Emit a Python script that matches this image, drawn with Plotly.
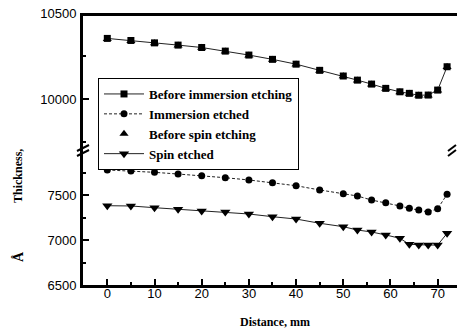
import plotly.graph_objects as go

distance = [0, 5, 10, 15, 20, 25, 30, 35, 40, 45, 50, 53, 56, 59, 62, 64, 66, 68, 70, 72]
before_immersion = [10353, 10341, 10327, 10314, 10300, 10279, 10256, 10231, 10203, 10167,
                    10134, 10110, 10087, 10062, 10042, 10033, 10022, 10023, 10052, 10188]
before_spin = [10350, 10338, 10325, 10312, 10298, 10277, 10254, 10229, 10201, 10165,
               10132, 10108, 10085, 10060, 10040, 10031, 10020, 10021, 10050, 10186]
immersion_etched = [7778, 7767, 7752, 7733, 7714, 7692, 7667, 7637, 7603, 7556,
                    7514, 7489, 7444, 7414, 7378, 7352, 7333, 7311, 7348, 7508]
spin_etched = [7381, 7378, 7359, 7341, 7322, 7311, 7289, 7259, 7233, 7186,
               7148, 7111, 7089, 7056, 7019, 6952, 6944, 6944, 6944, 7074]

x_ticks = [0, 10, 20, 30, 40, 50, 60, 70]
y_low_ticks = [6500, 7000, 7500]
y_high_ticks = [10000, 10500]

W, H = 457, 332
L, R, T, B = 83, 0, 13, 47
pw, ph = W - L - R, H - T - B
brk = 135 / ph

def px(xp):
    return (xp - L) / pw

def py(yp):
    return (H - B - yp) / ph

fig = go.Figure()
fig.add_trace(go.Scatter(x=distance, y=before_spin, yaxis="y2", mode="markers",
                         name="Before spin etching", legendrank=3, cliponaxis=False,
                         marker=dict(symbol="triangle-up", size=8, color="black")))
fig.add_trace(go.Scatter(x=distance, y=before_immersion, yaxis="y2", mode="lines+markers",
                         name="Before immersion etching", legendrank=1, cliponaxis=False,
                         line=dict(color="#222", width=1),
                         marker=dict(symbol="square", size=7, color="black")))
fig.add_trace(go.Scatter(x=distance, y=immersion_etched, yaxis="y", mode="lines+markers",
                         name="Immersion etched", legendrank=2, cliponaxis=False,
                         line=dict(color="#222", width=1, dash="3px,2px"),
                         marker=dict(symbol="circle", size=7, color="black")))
fig.add_trace(go.Scatter(x=distance, y=spin_etched, yaxis="y", mode="lines+markers",
                         name="Spin etched", legendrank=4, cliponaxis=False,
                         line=dict(color="#222", width=1),
                         marker=dict(symbol="triangle-down", size=9, color="black")))

tickfont = dict(family="Liberation Sans, Arial", size=13, color="black")
fig.update_layout(
    width=W, height=H,
    margin=dict(l=L, r=R, t=T, b=B, pad=0),
    paper_bgcolor="white", plot_bgcolor="white",
    showlegend=True,
    legend=dict(
        x=px(98), y=py(78), xanchor="left", yanchor="top",
        bordercolor="black", borderwidth=1, bgcolor="white",
        font=dict(family="Liberation Serif, Times New Roman", size=13, color="black", weight="bold"),
        itemwidth=40,
    ),
    xaxis=dict(
        range=[-5.15, 74.1], tickvals=x_ticks, ticks="inside", ticklen=6, tickwidth=2,
        tickcolor="black", showline=True, linewidth=3, linecolor="black",
        showgrid=False, zeroline=False, tickfont=tickfont, anchor="y", automargin=False,
        ticklabelstandoff=-6,
        minor=dict(dtick=5, tick0=0, ticks="inside", ticklen=3, tickwidth=2, tickcolor="black", showgrid=False),
    ),
    yaxis=dict(
        domain=[0, brk], range=[6500, 8000], tickvals=y_low_ticks, ticks="inside",
        ticklen=6, tickwidth=2, tickcolor="black", showline=True, linewidth=3,
        linecolor="black", showgrid=False, zeroline=False, tickfont=tickfont,
        tickformat="d", ticklabelstandoff=1, anchor="x", automargin=False,
        minor=dict(dtick=250, tick0=6500, ticks="inside", ticklen=3, tickwidth=2, tickcolor="black", showgrid=False),
    ),
    yaxis2=dict(
        domain=[brk, 1], range=[9703, 10501], tickvals=y_high_ticks, ticks="inside",
        ticklen=6, tickwidth=2, tickcolor="black", showline=True, linewidth=3,
        linecolor="black", showgrid=False, zeroline=False, tickfont=tickfont,
        tickformat="d", ticklabelstandoff=1, anchor="x", automargin=False,
        minor=dict(dtick=250, tick0=10000, ticks="inside", ticklen=3, tickwidth=2, tickcolor="black", showgrid=False),
    ),
)

titlefont = dict(family="Liberation Serif, Times New Roman", size=12, color="black", weight="bold")
fig.add_annotation(text="Thickness,", xref="paper", yref="paper", x=px(18), y=py(176),
                   xanchor="center", yanchor="middle",
                   textangle=-90, showarrow=False, font=titlefont)
fig.add_annotation(text="Å", xref="paper", yref="paper", x=px(18), y=py(257),
                   xanchor="center", yanchor="middle",
                   textangle=-90, showarrow=False, font=dict(family="Liberation Serif", size=14, color="black", weight="bold"))
fig.add_annotation(text="Distance, mm", xref="paper", yref="paper", x=px(275), y=py(322),
                   xanchor="center", yanchor="middle",
                   showarrow=False, font=titlefont)

# top frame line
fig.add_shape(type="line", xref="paper", yref="paper", x0=0, x1=1, y0=py(14.5), y1=py(14.5),
              line=dict(color="black", width=3), layer="above")
# break marks
for (a, b) in [(77, 89), (448, 456)]:
    for off in (0, 5):
        fig.add_shape(type="line", xref="paper", yref="paper",
                      x0=px(a), x1=px(b), y0=py(151 + off), y1=py(145 + off),
                      line=dict(color="black", width=2))

fig.write_html("out.html", config={"displayModeBar": False},
               post_script="document.body.style.margin='0px';document.body.style.overflow='hidden';")
